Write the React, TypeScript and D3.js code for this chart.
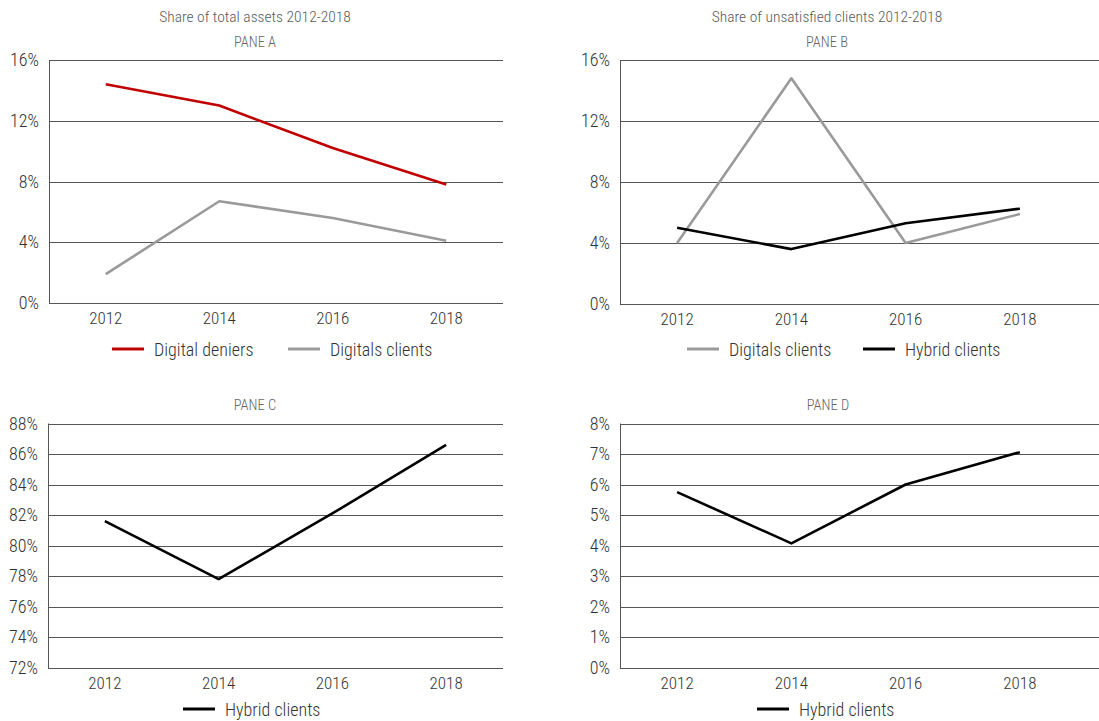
import React from "react";
import * as d3 from "d3";

const years = ["2012", "2014", "2016", "2018"];
const assetsDigitalDeniers = [14.4, 13.0, 10.2, 7.8];
const assetsDigitalClients = [1.9, 6.7, 5.6, 4.1];
const unsatDigitalClients = [4.0, 14.8, 4.0, 5.9];
const unsatHybridClients = [5.0, 3.6, 5.3, 6.25];
const paneCHybrid = [81.6, 77.8, 82.1, 86.6];
const paneDHybrid = [5.75, 4.07, 6.0, 7.06];

const ticksAB = [0, 4, 8, 12, 16];
const ticksC = [72, 74, 76, 78, 80, 82, 84, 86, 88];
const ticksD = [0, 1, 2, 3, 4, 5, 6, 7, 8];

const RED = "#c00000";
const GREY = "#9a9a9a";
const BLACK = "#000000";
const FONT = "'Roboto Condensed', 'Liberation Sans Narrow', 'Arial Narrow', 'DejaVu Sans Condensed', sans-serif";

type Series = { name: string; values: number[]; color: string };
type Pane = {
  title?: string;
  pane: string;
  x0: number; x1: number; gridRight: number;
  yTop: number; yBottom: number;
  domain: [number, number];
  ticks: number[];
  series: Series[];
  legendItems: { name: string; color: string; lx: number }[];
  legendY: number;
  titleX: number;
};

const panes: Pane[] = [
  {
    title: "Share of total assets 2012-2018", pane: "PANE A",
    x0: 49, x1: 503, gridRight: 503, yTop: 60, yBottom: 303,
    domain: [0, 16], ticks: ticksAB,
    series: [
      { name: "Digital deniers", values: assetsDigitalDeniers, color: RED },
      { name: "Digitals clients", values: assetsDigitalClients, color: GREY },
    ],
    legendItems: [
      { name: "Digital deniers", color: RED, lx: 112 },
      { name: "Digitals clients", color: GREY, lx: 288 },
    ],
    legendY: 349, titleX: 255,
  },
  {
    title: "Share of unsatisfied clients 2012-2018", pane: "PANE B",
    x0: 620, x1: 1077, gridRight: 1099, yTop: 60, yBottom: 304,
    domain: [0, 16], ticks: ticksAB,
    series: [
      { name: "Digitals clients", values: unsatDigitalClients, color: GREY },
      { name: "Hybrid clients", values: unsatHybridClients, color: BLACK },
    ],
    legendItems: [
      { name: "Digitals clients", color: GREY, lx: 687 },
      { name: "Hybrid clients", color: BLACK, lx: 863 },
    ],
    legendY: 349, titleX: 827,
  },
  {
    pane: "PANE C",
    x0: 48, x1: 503, gridRight: 503, yTop: 423.5, yBottom: 667.5,
    domain: [72, 88], ticks: ticksC,
    series: [{ name: "Hybrid clients", values: paneCHybrid, color: BLACK }],
    legendItems: [{ name: "Hybrid clients", color: BLACK, lx: 183 }],
    legendY: 709, titleX: 255,
  },
  {
    pane: "PANE D",
    x0: 620, x1: 1077, gridRight: 1099, yTop: 423.5, yBottom: 667.5,
    domain: [0, 8], ticks: ticksD,
    series: [{ name: "Hybrid clients", values: paneDHybrid, color: BLACK }],
    legendItems: [{ name: "Hybrid clients", color: BLACK, lx: 757 }],
    legendY: 709, titleX: 828,
  },
];

function PaneView({ p }: { p: Pane }) {
  const x = d3.scaleBand<string>().domain(years).range([p.x0, p.x1]).padding(0);
  const y = d3.scaleLinear().domain(p.domain).range([p.yBottom, p.yTop]);
  const cx = (d: string) => (x(d) as number) + x.bandwidth() / 2;
  const line = d3
    .line<number>()
    .x((_, i) => cx(years[i]))
    .y((v) => y(v));
  return (
    <g>
      {p.title && (
        <text x={p.titleX} y={21.5} textAnchor="middle" fontSize={15.5} fill="#5a5a5a">
          {p.title}
        </text>
      )}
      <text x={p.titleX} y={p.yTop - 13.5} textAnchor="middle" fontSize={14.5} fill="#666">
        {p.pane}
      </text>
      {p.ticks.map((t) => (
        <g key={t}>
          <line x1={p.x0} x2={p.gridRight} y1={Math.round(y(t)) + 0.5} y2={Math.round(y(t)) + 0.5} stroke="#555" strokeWidth={1} />
          <text x={p.x0 - 10} y={y(t) + 6} textAnchor="end" fontSize={18} fill="#333">
            {t}%
          </text>
        </g>
      ))}
      <line x1={p.x0 + 0.5} x2={p.x0 + 0.5} y1={p.yTop} y2={p.yBottom + 0.5} stroke="#555" strokeWidth={1} />
      {years.map((yr) => (
        <text key={yr} x={cx(yr)} y={p.yBottom + 21} textAnchor="middle" fontSize={17} fill="#333">
          {yr}
        </text>
      ))}
      {p.series.map((s) => (
        <path key={s.name} d={line(s.values) || ""} fill="none" stroke={s.color} strokeWidth={2.6} strokeLinejoin="round" />
      ))}
      {p.legendItems.map((l) => (
        <g key={l.name}>
          <line x1={l.lx} x2={l.lx + 32} y1={p.legendY} y2={p.legendY} stroke={l.color} strokeWidth={3} />
          <text x={l.lx + 42} y={p.legendY + 6.5} fontSize={18} fill="#333">
            {l.name}
          </text>
        </g>
      ))}
    </g>
  );
}

export default function App() {
  return (
    <svg
      width={1099}
      height={721}
      style={{ position: "absolute", left: 0, top: 0, background: "#fff", fontFamily: FONT, fontWeight: 300 }}
    >
      <rect x={0} y={0} width={1099} height={721} fill="#fff" />
      {panes.map((p) => (
        <PaneView key={p.pane} p={p} />
      ))}
    </svg>
  );
}
